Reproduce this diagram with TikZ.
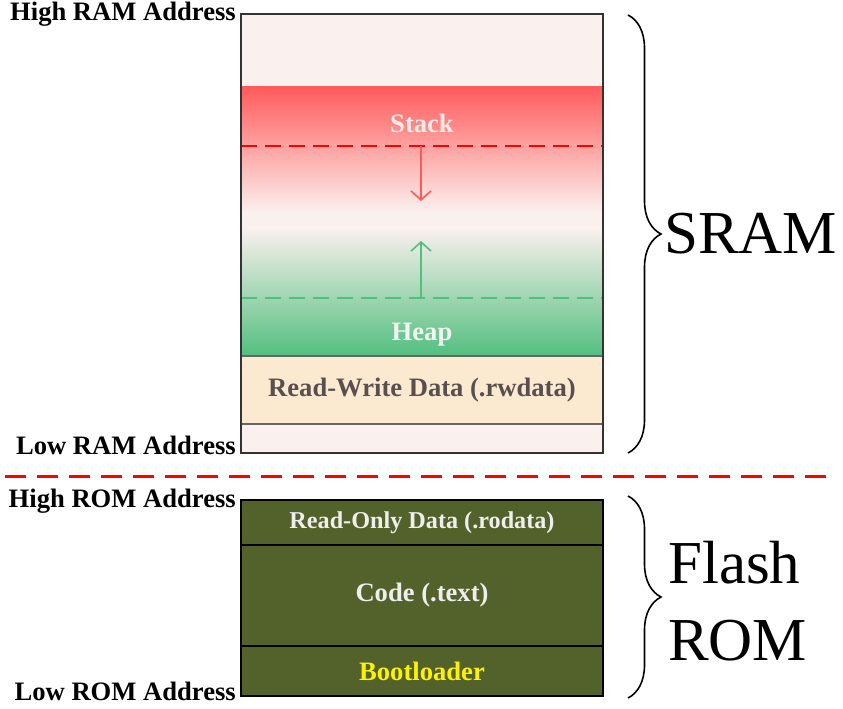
\documentclass[tikz,border=0pt]{standalone}
\usepackage{fontspec}
\setmainfont{Liberation Serif}
\usetikzlibrary{arrows.meta, positioning, decorations.pathreplacing}

\definecolor{sramfill}{HTML}{FAF0EE}
\definecolor{stackred}{HTML}{FF5A5A}
\definecolor{heapgreen}{HTML}{52BF7F}
\definecolor{rwfill}{HTML}{FBE9D0}
\definecolor{rwtext}{HTML}{594F4F}
\definecolor{romgreen}{HTML}{53622B}
\definecolor{romtext}{HTML}{EEEEEE}
\definecolor{stacktext}{HTML}{F7EAE8}
\definecolor{heaptext}{HTML}{F2F4F0}

\begin{document}
\begin{tikzpicture}[x=1pt, y=-1pt,
		addr/.style={font=\fontsize{26.6}{30}\selectfont\bfseries, anchor=base east, inner sep=0pt},
		big/.style={font=\fontsize{61}{72}\selectfont, anchor=base west, inner sep=0pt},
		seg/.style={draw, line width=1.6pt, minimum width=362pt, inner sep=0pt, outer sep=0pt,
			font=\fontsize{26.6}{30}\selectfont\bfseries},
		rom/.style={seg, fill=romgreen, text=romtext},
		limit/.style={line width=2pt, dash pattern=on 16pt off 8pt},
		growarrow/.style={line width=1.6pt, -{Straight Barb[length=9pt, width=20pt, line width=1.6pt]}},
		curly/.style={decorate, decoration={brace, amplitude=33pt}, line width=1.6pt}]
	\useasboundingbox (0,0) rectangle (843,709);
	% SRAM
	\fill[sramfill] (241,14) rectangle (603,453);
	\shade[top color=stackred, bottom color=sramfill] (241,86) rectangle (603,212);
	\shade[top color=sramfill, bottom color=heapgreen] (241,228) rectangle (603,356);
	\node[font=\fontsize{26.6}{30}\selectfont\bfseries, text=stacktext, anchor=base, inner sep=0pt] (stack) at (422,132) {Stack};
	\node[font=\fontsize{26.6}{30}\selectfont\bfseries, text=heaptext, anchor=base, inner sep=0pt] (heap) at (422,340) {Heap};
	\draw[limit, red] (241,146) -- (603,146);
	\draw[limit, heapgreen] (241,298) -- (603,298);
	\coordinate (stop) at (421,146);
	\coordinate (send) at (421,201);
	\coordinate (htop) at (421,298);
	\coordinate (hend) at (421,241);
	\draw[growarrow, stackred] (stop) -- (send);
	\draw[growarrow, heapgreen] (htop) -- (hend);
	\node[seg, draw=black!60, fill=rwfill, text=rwtext, minimum height=68pt] (rw) at (422,390) {Read-Write Data (.rwdata)};
	\node[draw=black!80, line width=1.6pt, minimum width=362pt, minimum height=439pt, inner sep=0pt, outer sep=0pt] (sram) at (422,233.5) {};
	% Flash
	\node[rom, minimum height=45pt, font=\fontsize{24.2}{28}\selectfont\bfseries] (rodata) at (422,522.5) {Read-Only Data (.rodata)};
	\node[rom, minimum height=101pt, below=0pt of rodata] (code) {Code (.text)};
	\node[rom, minimum height=50pt, below=0pt of code, text=yellow] (boot) {Bootloader};
	% addresses
	\node[addr] (hiram) at (236,21) {High RAM Address};
	\node[addr] (loram) at (236,454) {Low RAM Address};
	\node[addr] (hirom) at (236,507) {High ROM Address};
	\node[addr] (lorom) at (236,700) {Low ROM Address};
	\draw[red, line width=3pt, dash pattern=on 21pt off 11pt] (5,476) -- (833,476);
	% braces
	\draw[curly] (628,15) -- (628,453);
	\draw[curly] (628,496) -- (628,698);
	\node[big] (sramlbl) at (664,253) {SRAM};
	\node[big] (flashlbl) at (668,583) {Flash};
	\node[big] (romlbl) at (668,660) {ROM};
\end{tikzpicture}
\end{document}
